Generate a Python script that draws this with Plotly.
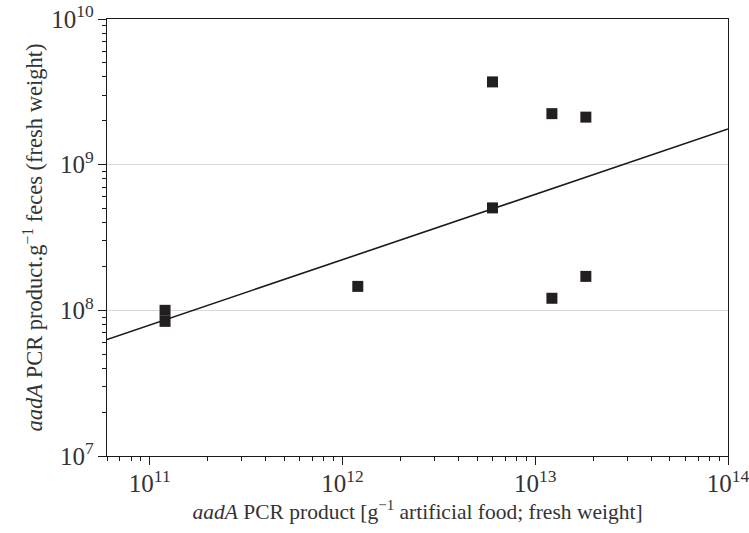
import plotly.graph_objects as go

# data
food_x = [1.2e11, 1.2e11, 1.2e12, 6.0e12, 6.0e12, 1.22e13, 1.22e13, 1.83e13, 1.83e13]
feces_y = [1.0e8, 8.4e7, 1.46e8, 3.7e9, 5.05e8, 2.24e9, 1.21e8, 2.12e9, 1.71e8]
trend_x = [6.0e10, 1.0e14]
trend_y = [6.3e7, 1.76e9]

fig = go.Figure()
fig.add_trace(go.Scatter(x=trend_x, y=trend_y, mode="lines",
                         line=dict(color="#1a1a1a", width=1.6), showlegend=False))
fig.add_trace(go.Scatter(x=food_x, y=feces_y, mode="markers",
                         marker=dict(symbol="square", size=11, color="#231f20"),
                         showlegend=False))

font = dict(family="Liberation Serif, Times New Roman, serif", size=20, color="#333")
fig.update_layout(
    width=749, height=533, autosize=False,
    margin=dict(l=107, r=21, t=19, b=77),
    paper_bgcolor="white", plot_bgcolor="white",
    font=font,
    xaxis=dict(type="log", range=[10.778, 14], dtick=1, exponentformat="power",
               showexponent="all", showgrid=False, zeroline=False, automargin=False,
               showline=True, linecolor="#1a1a1a", linewidth=1.3, mirror=True,
               ticks="outside", ticklen=8, tickcolor="#1a1a1a",
               minor=dict(ticks="outside", ticklen=4, dtick="D1", tickcolor="#1a1a1a", showgrid=False),
               tickfont=dict(size=20, color="#333"), ticklabelstandoff=-2,
               ticklabeloverflow="allow",
               title=dict(text="<i>aadA</i> PCR product [g<sup>−1</sup> artificial food; fresh weight]",
                          font=dict(size=21.5, color="#333"), standoff=7)),
    yaxis=dict(type="log", range=[7, 10], dtick=1, exponentformat="power",
               showexponent="all", showgrid=True, gridcolor="#d9d9d9", gridwidth=1,
               zeroline=False, automargin=False,
               showline=True, linecolor="#1a1a1a", linewidth=1.3, mirror=True,
               ticks="outside", ticklen=8, tickcolor="#1a1a1a",
               minor=dict(ticks="outside", ticklen=4, dtick="D1", tickcolor="#1a1a1a", showgrid=False),
               tickfont=dict(size=20, color="#333"), ticklabeloverflow="allow",
               title=dict(text="<i>aadA</i> PCR product.g<sup>−1</sup> feces (fresh weight)",
                          font=dict(size=22.5, color="#333"), standoff=2)),
)
fig.write_html("out.html", config={"displayModeBar": False},
               post_script="document.body.style.margin='0';document.body.style.overflow='hidden';")
